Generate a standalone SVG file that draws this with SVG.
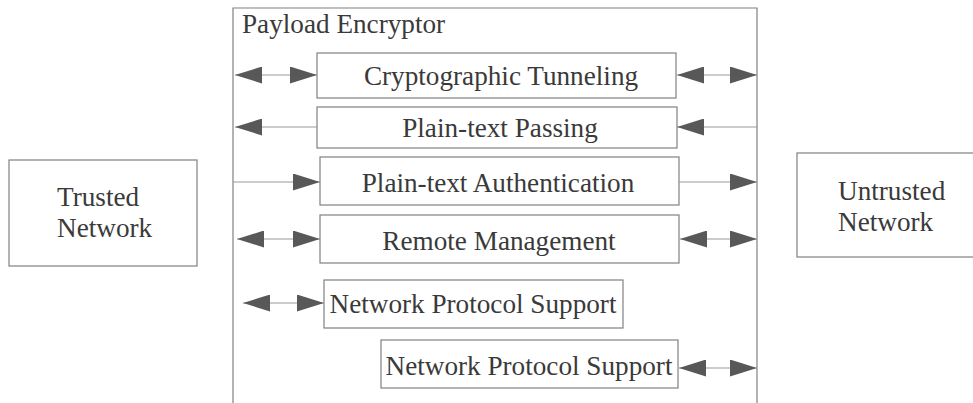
<svg xmlns="http://www.w3.org/2000/svg" width="973" height="403" viewBox="0 0 973 403">
<style>
.box{fill:#fff;stroke:#808080;stroke-width:1.2}
.t{font-size:27.2px;fill:#3a3a3a}
.c{text-anchor:middle}
.ln{stroke:#9a9a9a;stroke-width:1.2;fill:none}
</style>
<defs>
<marker id="ah" viewBox="0 0 27 17" refX="27" refY="8.5" markerWidth="27" markerHeight="17" markerUnits="userSpaceOnUse" orient="auto-start-reverse">
<path d="M0,0 L27,8.5 L0,17 Z" fill="#585858"/>
</marker>
</defs>
<rect width="973" height="403" fill="#fff"/>
<g font-family="Liberation Serif, DejaVu Serif, serif">
<g id="payload-encryptor">
<path class="ln" d="M233,403 V8 H757 V403" style="stroke:#808080"/>
<text class="t" x="242" y="33">Payload Encryptor</text>
</g>
<g id="trusted-network">
<rect class="box" x="9" y="160" width="188" height="106"/>
<text class="t" x="57" y="206">Trusted</text>
<text class="t" x="57" y="237">Network</text>
</g>
<g id="untrusted-network">
<rect class="box" x="797" y="153" width="190" height="104"/>
<text class="t" x="838" y="200">Untrusted</text>
<text class="t" x="838" y="231">Network</text>
</g>
<g id="cryptographic-tunneling">
<rect class="box" x="317" y="53" width="359" height="45"/>
<text class="t c" x="501" y="85">Cryptographic Tunneling</text>
</g>
<g id="plain-text-passing">
<rect class="box" x="317" y="107" width="360" height="41"/>
<text class="t c" x="500" y="137">Plain-text Passing</text>
</g>
<g id="plain-text-authentication">
<rect class="box" x="320" y="157" width="359" height="48"/>
<text class="t c" x="498" y="192">Plain-text Authentication</text>
</g>
<g id="remote-management">
<rect class="box" x="320" y="215" width="359" height="48"/>
<text class="t c" x="499" y="250">Remote Management</text>
</g>
<g id="network-protocol-support-1">
<rect class="box" x="324" y="280" width="299" height="48"/>
<text class="t c" x="473" y="313">Network Protocol Support</text>
</g>
<g id="network-protocol-support-2">
<rect class="box" x="381" y="340" width="297" height="48"/>
<text class="t c" x="529" y="375">Network Protocol Support</text>
</g>
</g>
<g id="connectors">
<line class="ln" x1="235" y1="75" x2="317" y2="75" marker-start="url(#ah)" marker-end="url(#ah)"/>
<line class="ln" x1="677" y1="75" x2="757" y2="75" marker-start="url(#ah)" marker-end="url(#ah)"/>
<line class="ln" x1="235" y1="127" x2="317" y2="127" marker-start="url(#ah)"/>
<line class="ln" x1="677" y1="127" x2="757" y2="127" marker-start="url(#ah)"/>
<line class="ln" x1="233" y1="182" x2="320" y2="182" marker-end="url(#ah)"/>
<line class="ln" x1="679" y1="182" x2="757" y2="182" marker-end="url(#ah)"/>
<line class="ln" x1="237" y1="239" x2="320" y2="239" marker-start="url(#ah)" marker-end="url(#ah)"/>
<line class="ln" x1="680" y1="239" x2="757" y2="239" marker-start="url(#ah)" marker-end="url(#ah)"/>
<line class="ln" x1="243" y1="303" x2="324" y2="303" marker-start="url(#ah)" marker-end="url(#ah)"/>
<line class="ln" x1="679" y1="368" x2="757" y2="368" marker-start="url(#ah)" marker-end="url(#ah)"/>
</g>
</svg>
